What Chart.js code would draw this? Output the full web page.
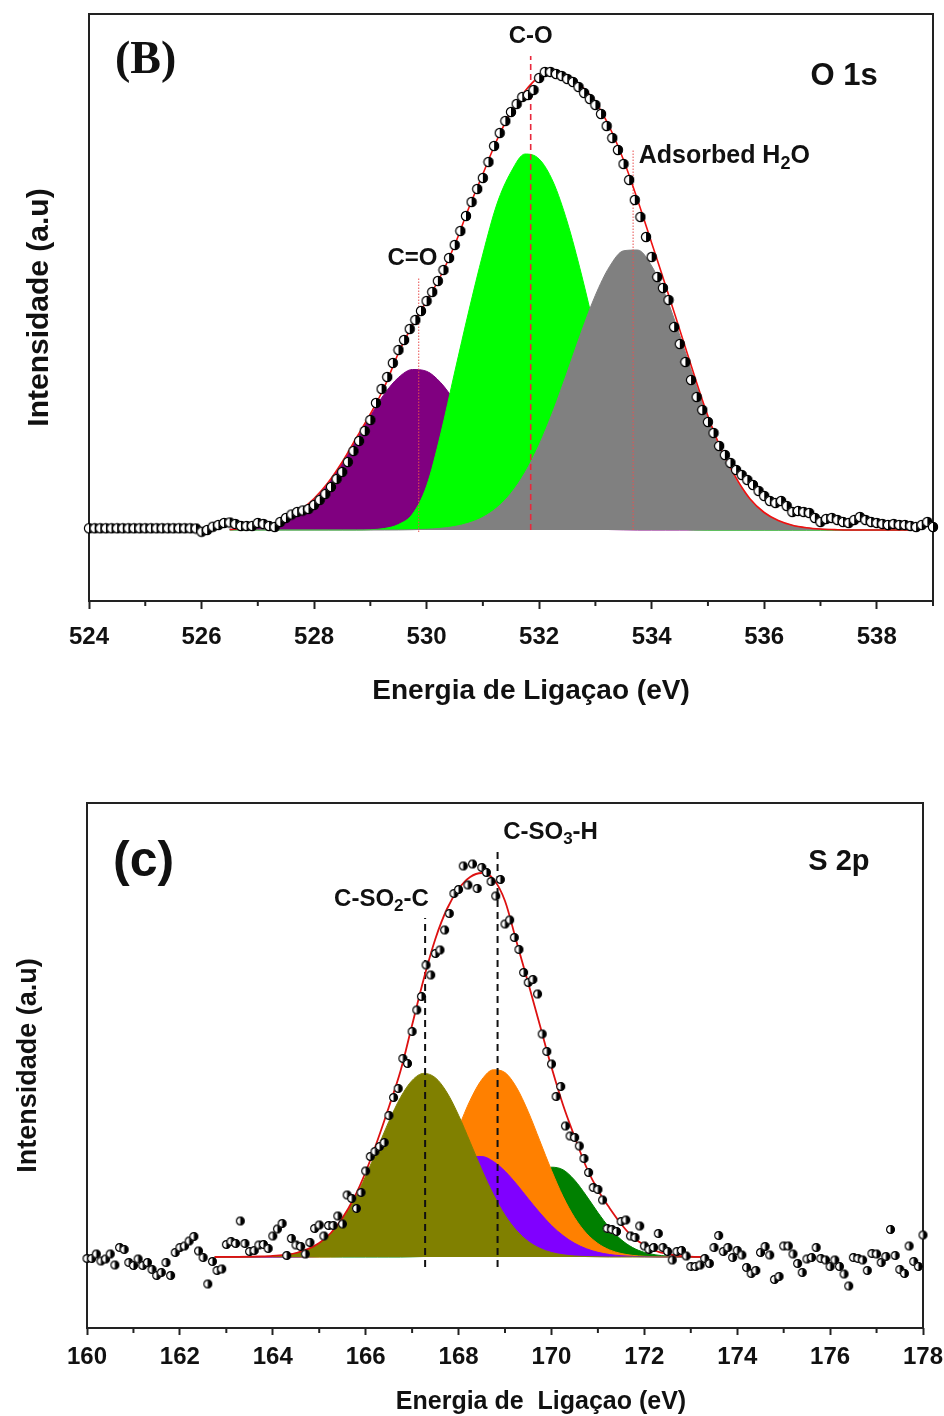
<!DOCTYPE html>
<html>
<head>
<meta charset="utf-8">
<script src="https://cdn.jsdelivr.net/npm/chart.js@4.4.1/dist/chart.umd.min.js"></script>
<style>
  html, body { margin: 0; padding: 0; background: #fff; }
  #wrap { position: relative; width: 944px; height: 1416px; }
  #o1s { position: absolute; left: 0; top: 0; }
  #s2p { position: absolute; left: 0; top: 730px; }
</style>
</head>
<body>
<div id="wrap">
  <canvas id="o1s" width="944" height="720"></canvas>
  <canvas id="s2p" width="944" height="686"></canvas>
</div>
<script>
// ---------- O 1s spectrum ----------
var o1sEnergy = [
  524.0,524.1,524.2,524.3,524.4,524.5,524.6,524.7,524.8,524.9,
  525.0,525.1,525.2,525.3,525.4,525.5,525.6,525.7,525.8,525.9,
  526.0,526.1,526.2,526.3,526.4,526.5,526.6,526.7,526.8,526.9,
  527.0,527.1,527.2,527.3,527.4,527.5,527.6,527.7,527.8,527.9,
  528.0,528.1,528.2,528.3,528.4,528.5,528.6,528.7,528.8,528.9,
  529.0,529.1,529.2,529.3,529.4,529.5,529.6,529.7,529.8,529.9,
  530.0,530.1,530.2,530.3,530.4,530.5,530.6,530.7,530.8,530.9,
  531.0,531.1,531.2,531.3,531.4,531.5,531.6,531.7,531.8,531.9,
  532.0,532.1,532.2,532.3,532.4,532.5,532.6,532.7,532.8,532.9,
  533.0,533.1,533.2,533.3,533.4,533.5,533.6,533.7,533.8,533.9,
  534.0,534.1,534.2,534.3,534.4,534.5,534.6,534.7,534.8,534.9,
  535.0,535.1,535.2,535.3,535.4,535.5,535.6,535.7,535.8,535.9,
  536.0,536.1,536.2,536.3,536.4,536.5,536.6,536.7,536.8,536.9,
  537.0,537.1,537.2,537.3,537.4,537.5,537.6,537.7,537.8,537.9,
  538.0,538.1,538.2,538.3,538.4,538.5,538.6,538.7,538.8,538.9,
  539.0
]
var o1sCounts = [
  0.34,0.34,0.34,0.34,0.34,0.34,0.34,0.34,0.34,0.34,
  0.34,0.34,0.34,0.34,0.34,0.34,0.34,0.34,0.34,0.3,
  -0.34,0,0.66,1.0,1.4,1.5,1.2,0.8,0.8,0.8,
  1.4,1.2,0.8,0.6,1.6,2.4,3.1,3.6,3.9,4.2,
  5.0,6.0,7.2,8.6,10.2,11.6,13.6,15.8,17.8,19.8,
  22.0,25.4,28.2,30.6,33.4,36.0,38.0,40.2,42.0,43.8,
  45.8,47.6,49.8,52.0,54.4,57.0,59.8,62.8,65.6,68.2,
  70.4,73.6,76.8,79.4,81.8,83.6,85.2,86.6,87.0,88.0,
  90.4,91.6,91.6,91.2,90.8,90.2,89.6,88.6,87.4,86.2,
  85.0,83.2,80.8,78.4,76.0,73.2,70.0,66.0,62.6,58.6,
  54.6,50.6,48.4,46.0,40.6,37.2,33.6,30.0,26.6,24.0,
  21.6,19.4,16.8,15.0,13.4,12.0,11.0,10.0,9.0,7.8,
  6.8,5.8,5.4,5.8,4.8,3.6,3.8,3.6,3.4,2.4,
  1.6,2.2,2.4,2.0,1.6,1.4,2.0,2.6,2.0,1.6,
  1.4,1.2,1.0,1.2,1.0,1.0,0.8,0.6,1.0,1.6,
  0.6
]
var o1sFitEnergy = [
  526.5,526.75,527,527.25,527.5,527.75,528,528.25,528.5,528.75,
  529,529.25,529.5,529.75,530,530.25,530.5,530.75,531,531.25,
  531.5,531.75,532,532.25,532.5,532.75,533,533.25,533.5,533.75,
  534,534.25,534.5,534.75,535,535.25,535.5,535.75,536,536.25,
  536.5,536.75,537,537.25,537.5,537.75,538,538.25,538.5,538.75
]
var o1sEnvelope = [
  0.1,0.3,0.6,1.2,2.2,3.9,6.3,9.5,13.6,18.4,
  23.2,28.6,35.4,41.0,45.8,50.8,57.0,64.4,71.2,78.0,
  83.6,87.8,90.6,91.4,90.8,88.8,85.6,80.6,74.0,66.0,
  57.4,48.8,40.0,31.2,22.8,15.8,10.4,6.2,3.5,1.9,
  0.96,0.46,0.2,0.08,0,0,0,0,0,0
]
// C=O
var o1sCdO = [
  0.13,0.28,0.58,1.16,2.14,3.70,6.04,9.24,13.3,17.98,
  22.82,27.22,30.5,32.1,31.74,29.48,25.72,21.1,16.24,11.76,
  7.98,5.1,3.06,1.72,0.92,0.46,0.22,0.09,0.04,0,
  0,0,0,0,0,0,0,0,0,0,
  0,0,0,0,0,0,0,0,0,0
]
// C-O
var o1sCO = [
  0,0,0,0,0,0,0,0,0,0,
  0.06,0.3,1.1,3.2,8.8,19.2,31.6,43.8,55.2,65.2,
  71.6,75.2,74.2,69.6,61.6,51.2,39.4,27.0,14.8,6.0,
  2.2,0.7,0.2,0.04,0,0,0,0,0,0,
  0,0,0,0,0,0,0,0,0,0
]
// adsorbed water
var o1sH2O = [
  0,0,0,0,0,0,0,0,0,0,
  0,0,0.01,0.06,0.15,0.34,0.7,1.38,2.54,4.44,
  7.34,11.5,17.02,23.84,31.6,39.6,46.96,52.66,55.84,56.0,
  52.8,46.8,38.92,30.4,22.36,15.4,9.98,6.08,3.48,1.86,
  0.94,0.44,0.2,0.08,0,0,0,0,0,0
]
var o1sTicks = [524, 526, 528, 530, 532, 534, 536, 538]

// ---------- S 2p spectrum ----------
var s2pEnergy = [
  160.0,160.1,160.2,160.3,160.4,160.5,160.6,160.7,160.8,160.9,
  161.0,161.1,161.2,161.3,161.4,161.5,161.6,161.7,161.8,161.9,
  162.0,162.1,162.2,162.3,162.4,162.5,162.6,162.7,162.8,162.9,
  163.0,163.1,163.2,163.3,163.4,163.5,163.6,163.7,163.8,163.9,
  164.0,164.1,164.2,164.3,164.4,164.5,164.6,164.7,164.8,164.9,
  165.0,165.1,165.2,165.3,165.4,165.5,165.6,165.7,165.8,165.9,
  166.0,166.1,166.2,166.3,166.4,166.5,166.6,166.7,166.8,166.9,
  167.0,167.1,167.2,167.3,167.4,167.5,167.6,167.7,167.8,167.9,
  168.0,168.1,168.2,168.3,168.4,168.5,168.6,168.7,168.8,168.9,
  169.0,169.1,169.2,169.3,169.4,169.5,169.6,169.7,169.8,169.9,
  170.0,170.1,170.2,170.3,170.4,170.5,170.6,170.7,170.8,170.9,
  171.0,171.1,171.2,171.3,171.4,171.5,171.6,171.7,171.8,171.9,
  172.0,172.1,172.2,172.3,172.4,172.5,172.6,172.7,172.8,172.9,
  173.0,173.1,173.2,173.3,173.4,173.5,173.6,173.7,173.8,173.9,
  174.0,174.1,174.2,174.3,174.4,174.5,174.6,174.7,174.8,174.9,
  175.0,175.1,175.2,175.3,175.4,175.5,175.6,175.7,175.8,175.9,
  176.0,176.1,176.2,176.3,176.4,176.5,176.6,176.7,176.8,176.9,
  177.0,177.1,177.2,177.3,177.4,177.5,177.6,177.7,177.8,177.9,
  178.0
]
var s2pCounts = [
  -0.3,-0.3,0.6,-0.8,-0.4,0.6,-1.6,1.9,1.5,-1.1,
  -1.7,-0.4,-1.7,-1.1,-2.5,-3.7,-3.1,-1.1,-3.7,0.9,
  1.9,2.2,3.2,4.1,1.2,-0.1,-5.4,-0.9,-2.7,-2.4,
  2.5,3.1,2.7,7.2,2.7,1.1,1.3,2.4,2.5,1.7,
  4.2,5.6,6.7,0.3,3.7,2.4,2.1,0.6,2.9,5.7,
  6.4,4.2,6.3,6.3,8.2,6.6,12.4,11.7,9.7,12.9,
  17.2,20.1,21.1,22.1,22.9,28.3,31.9,33.7,39.7,38.7,
  45.1,49.4,52.1,58.4,56.4,60.7,61.4,65.4,68.7,72.7,
  73.5,78.2,74.4,78.6,73.7,77.9,76.9,75.1,72.2,75.5,
  66.6,67.4,63.9,61.5,56.9,54.9,55.5,52.6,44.6,41.1,
  38.6,32.1,34.1,26.2,24.2,23.9,22.2,19.7,16.9,13.9,
  13.5,11.4,5.7,5.5,5.1,7.1,7.4,4.2,3.9,6.2,
  2.2,1.5,1.9,4.7,1.9,1.1,-0.6,1.1,1.3,0.2,
  -1.9,-1.9,-1.6,-0.3,-1.3,1.9,4.3,1.1,1.9,-0.1,
  1.3,0.4,-2.1,-3.3,-2.7,0.9,2.1,0.4,-4.5,-3.9,
  2.2,2.2,0.6,-1.3,-3.1,-0.4,-0.1,1.9,-0.3,-0.6,
  -1.9,-0.6,-1.9,-3.4,-5.8,-0.1,-0.3,-0.6,-2.7,0.7,
  0.6,-1.1,0.1,5.5,0.3,-2.5,-3.3,2.2,-0.9,-1.9,
  4.4
]
var s2pFitEnergy = [
  162.75,163,163.25,163.5,163.75,164,164.25,164.5,164.75,165,
  165.25,165.5,165.75,166,166.25,166.5,166.75,167,167.25,167.5,
  167.75,168,168.25,168.5,168.75,169,169.25,169.5,169.75,170,
  170.25,170.5,170.75,171,171.25,171.5,171.75,172,172.25,172.5,
  172.75,173,173.25
]
var s2pEnvelope = [
  0,0.02,0.04,0.07,0.12,0.22,0.42,0.8,1.56,2.8,
  4.8,7.8,11.8,17.0,23.2,30.0,37.2,46.4,55.6,63.6,
  69.6,73.6,76.0,76.8,75.6,71.2,63.0,54.8,46.4,38.0,
  30.4,24.0,18.0,13.4,9.8,6.6,4.0,2.4,1.2,0.6,
  0.24,0.08,0
]
// C-SO2-C
var s2pSO2 = [
  0,0,0.01,0.03,0.07,0.17,0.38,0.78,1.5,2.72,
  4.68,7.54,11.4,16.2,21.62,27.12,31.92,35.32,36.72,35.86,
  32.9,28.36,22.96,17.46,12.48,8.36,5.28,3.12,1.74,0.9,
  0.44,0.2,0.09,0.04,0,0,0,0,0,0,
  0,0,0
]
// third (violet) component
var s2pPeak3 = [
  0,0,0,0,0,0,0,0.02,0.05,0.1,
  0.22,0.44,0.84,1.48,2.48,3.92,5.88,8.3,11.08,13.98,
  16.68,18.78,20.0,20.1,19.1,17.16,14.56,11.66,8.84,6.32,
  4.28,2.74,1.66,0.94,0.5,0.26,0.12,0.05,0,0,
  0,0,0
]
// C-SO3-H
var s2pSO3 = [
  0,0,0,0,0,0,0,0,0,0.01,
  0.03,0.08,0.2,0.46,0.96,1.9,3.5,6.0,9.58,14.3,
  19.9,25.86,31.36,35.48,37.44,36.88,33.88,29.06,23.24,17.36,
  12.08,7.86,4.76,2.7,1.42,0.7,0.32,0.14,0.06,0.02,
  0,0,0
]
// fourth (green) component
var s2pPeak4 = [
  0,0,0,0,0,0,0,0,0,0,
  0,0,0,0,0,0,0,0.04,0.1,0.2,
  0.46,0.98,1.92,3.42,5.58,8.4,11.56,14.6,16.92,17.96,
  17.44,15.36,12.28,8.9,5.84,3.48,1.88,0.92,0.42,0.18,
  0.07,0.02,0
]
var s2pTicks = [160, 162, 164, 166, 168, 170, 172, 174, 176, 178]

var FONT = 'Liberation Sans, Arial, sans-serif'

function xy(xs, ys) {
    return xs.map(function(x, i) { return {x: x, y: ys[i]} })
}

function area(xs, ys, color, order) {
    return {
        type: 'line', data: xy(xs, ys), order: order,
        backgroundColor: color, borderColor: color, borderWidth: 1,
        fill: 'origin', pointRadius: 0, cubicInterpolationMode: 'monotone'
    }
}

function curve(xs, ys, color, width, order) {
    return {
        type: 'line', data: xy(xs, ys), order: order,
        borderColor: color, borderWidth: width, fill: false,
        pointRadius: 0, cubicInterpolationMode: 'monotone'
    }
}

function vline(x, y0, y1, color, width, dash, order) {
    return {
        type: 'line', data: [{x: x, y: y0}, {x: x, y: y1}], order: order,
        borderColor: color, borderWidth: width, borderDash: dash,
        fill: false, pointRadius: 0
    }
}

// circle, white on the left and black on the right
function halfDot(r) {
    var c = document.createElement('canvas')
    var s = Math.ceil(2 * r + 2)
    c.width = c.height = s
    var g = c.getContext('2d'), m = s / 2
    g.fillStyle = '#fff'
    g.beginPath(); g.arc(m, m, r, 0, 2 * Math.PI); g.fill()
    g.fillStyle = '#000'
    g.beginPath(); g.arc(m, m, r, -Math.PI / 2, Math.PI / 2); g.closePath(); g.fill()
    g.strokeStyle = '#000'; g.lineWidth = 1.2
    g.beginPath(); g.arc(m, m, r - 0.4, 0, 2 * Math.PI); g.stroke()
    return c
}

function dots(xs, ys, r) {
    return {
        type: 'scatter', data: xy(xs, ys), order: 0, clip: false,
        pointStyle: halfDot(r), pointRadius: r, showLine: false
    }
}

// box round the plot, the short unlabelled ticks and the x axis name
var frame = {
    id: 'frame',
    beforeDatasetsDraw: function(chart, args, opts) {
        var a = chart.chartArea, ctx = chart.ctx, x = chart.scales.x
        ctx.save()
        ctx.strokeStyle = '#222'
        ctx.lineWidth = 2
        ctx.strokeRect(a.left, a.top, a.right - a.left, a.bottom - a.top)
        x.ticks.forEach(function(t) {
            if (t.label !== '') return
            var px = x.getPixelForValue(t.value)
            ctx.beginPath()
            ctx.moveTo(px, a.bottom)
            ctx.lineTo(px, a.bottom + opts.minor)
            ctx.stroke()
        })
        ctx.fillStyle = '#111'
        ctx.font = 'bold ' + opts.titleSize + 'px ' + FONT
        ctx.textAlign = 'center'
        ctx.textBaseline = 'middle'
        ctx.fillText(opts.title, a.left + opts.titleDx, a.bottom + opts.titleDy)
        ctx.restore()
    }
}

// peak names, with subscripts
var peakText = {
    id: 'peakText',
    afterDatasetsDraw: function(chart, args, opts) {
        var ctx = chart.ctx, sx = chart.scales.x, sy = chart.scales.y
        opts.items.forEach(function(it) {
            var px = sx.getPixelForValue(it.x), py = sy.getPixelForValue(it.y)
            var fam = it.family || FONT
            var big = 'bold ' + it.size + 'px ' + fam
            var small = 'bold ' + Math.round(it.size * 0.72) + 'px ' + fam
            ctx.save()
            var w = 0
            it.parts.forEach(function(p) {
                ctx.font = p[1] ? small : big
                w += ctx.measureText(p[0]).width
            })
            var cx = it.align === 'left' ? px : px - w / 2
            ctx.fillStyle = '#111'
            ctx.textBaseline = 'middle'
            ctx.textAlign = 'left'
            it.parts.forEach(function(p) {
                ctx.font = p[1] ? small : big
                ctx.fillText(p[0], cx, p[1] ? py + it.size * 0.32 : py)
                cx += ctx.measureText(p[0]).width
            })
            ctx.restore()
        })
    }
}

function panel(id, o) {
    return new Chart(document.getElementById(id), {
        type: 'scatter',
        data: {datasets: o.datasets},
        options: {
            responsive: false, animation: false, events: [], devicePixelRatio: 1,
            layout: {padding: o.padding},
            plugins: {
                legend: {display: false},
                tooltip: {enabled: false},
                frame: {minor: o.minorTick, title: o.xTitle, titleSize: o.xTitleSize,
                        titleDx: o.xTitleDx, titleDy: o.xTitleDy},
                peakText: {items: o.labels}
            },
            scales: {
                x: {
                    type: 'linear', min: o.xmin, max: o.xmax,
                    ticks: {
                        stepSize: 1, autoSkip: false, maxRotation: 0,
                        padding: o.tickPad, color: '#111',
                        font: {family: FONT, size: o.tickSize, weight: 'bold'},
                        callback: function(v) { return o.ticks.indexOf(v) >= 0 ? String(v) : '' }
                    },
                    grid: {
                        drawOnChartArea: false, drawTicks: true,
                        tickLength: o.majorTick, tickWidth: 2,
                        tickColor: function(c) {
                            return c.tick && o.ticks.indexOf(c.tick.value) >= 0 ? '#222' : 'rgba(0,0,0,0)'
                        }
                    },
                    border: {display: false},
                    afterFit: function(s) { s.height = o.xHeight; s.paddingLeft = 0; s.paddingRight = 0 }
                },
                y: {
                    min: o.ymin, max: o.ymax,
                    ticks: {display: false},
                    grid: {display: false, drawTicks: false},
                    border: {display: false},
                    title: {
                        display: true, text: 'Intensidade (a.u)', color: '#111',
                        font: {family: FONT, size: o.yTitleSize, weight: 'bold'},
                        padding: {top: o.yTitlePad, bottom: 0}
                    },
                    afterFit: function(s) { s.width = o.yWidth; s.paddingTop = 0; s.paddingBottom = 0 }
                }
            }
        },
        plugins: [frame, peakText]
    })
}

// ================= O 1s =================
panel('o1s', {
    xmin: 524, xmax: 539, ymin: -14.2, ymax: 103.2,
    ticks: o1sTicks, tickSize: 24, tickPad: 14, majorTick: 8, minorTick: 5,
    xTitle: 'Energia de Ligaçao (eV)', xTitleSize: 28, xTitleDx: 442, xTitleDy: 90, xHeight: 119,
    yTitleSize: 30, yTitlePad: 22, yWidth: 89,
    padding: {left: 0, right: 11, top: 14, bottom: 0},
    datasets: [
        dots(o1sEnergy, o1sCounts, 5),
        curve(o1sFitEnergy, o1sEnvelope, '#ee1111', 1.6, 1),
        vline(531.85, 0, 94.8, '#e8283c', 1.6, [6, 4], 2),
        vline(529.86, -0.4, 50.4, '#e85050', 1, [1.5, 1.5], 2),
        vline(533.67, 0, 76, '#e85050', 1, [1.5, 1.5], 2),
        area(o1sFitEnergy, o1sH2O, '#808080', 3),
        area(o1sFitEnergy, o1sCO, '#00ff00', 4),
        area(o1sFitEnergy, o1sCdO, '#800080', 5)
    ],
    labels: [
        {x: 524.46, y: 93.8, size: 46, family: 'Liberation Serif, Times New Roman, serif', align: 'left', parts: [['(B)']]},
        {x: 531.85, y: 98.8, size: 24, parts: [['C-O']]},
        {x: 537.42, y: 90.7, size: 31, parts: [['O 1s']]},
        {x: 533.77, y: 74.8, size: 25, align: 'left', parts: [['Adsorbed H'], ['2', 1], ['O']]},
        {x: 529.75, y: 54.4, size: 24, parts: [['C=O']]}
    ]
})

// ================= S 2p =================
panel('s2p', {
    xmin: 160, xmax: 178, ymin: -14.2, ymax: 90.8,
    ticks: s2pTicks, tickSize: 24, tickPad: 8, majorTick: 7, minorTick: 5,
    xTitle: 'Energia de  Ligaçao (eV)', xTitleSize: 25, xTitleDx: 454, xTitleDy: 74, xHeight: 88,
    yTitleSize: 27, yTitlePad: 12, yWidth: 87,
    padding: {left: 0, right: 21, top: 73, bottom: 0},
    datasets: [
        dots(s2pEnergy, s2pCounts, 4.3),
        curve(s2pFitEnergy, s2pEnvelope, '#dd1111', 1.8, 1),
        vline(167.28, -2, 67.8, '#111', 2, [7, 5], 2),
        vline(168.84, -2, 81.1, '#111', 2, [7, 5], 2),
        area(s2pFitEnergy, s2pSO2, '#808000', 3),
        area(s2pFitEnergy, s2pPeak3, '#8000ff', 4),
        area(s2pFitEnergy, s2pSO3, '#ff8000', 5),
        area(s2pFitEnergy, s2pPeak4, '#008000', 6)
    ],
    labels: [
        {x: 160.56, y: 79.0, size: 50, align: 'left', parts: [['(c)']]},
        {x: 166.34, y: 71.6, size: 24, parts: [['C-SO'], ['2', 1], ['-C']]},
        {x: 168.96, y: 85.0, size: 24, align: 'left', parts: [['C-SO'], ['3', 1], ['-H']]},
        {x: 176.19, y: 79.0, size: 29, parts: [['S 2p']]}
    ]
})
</script>
</body>
</html>
